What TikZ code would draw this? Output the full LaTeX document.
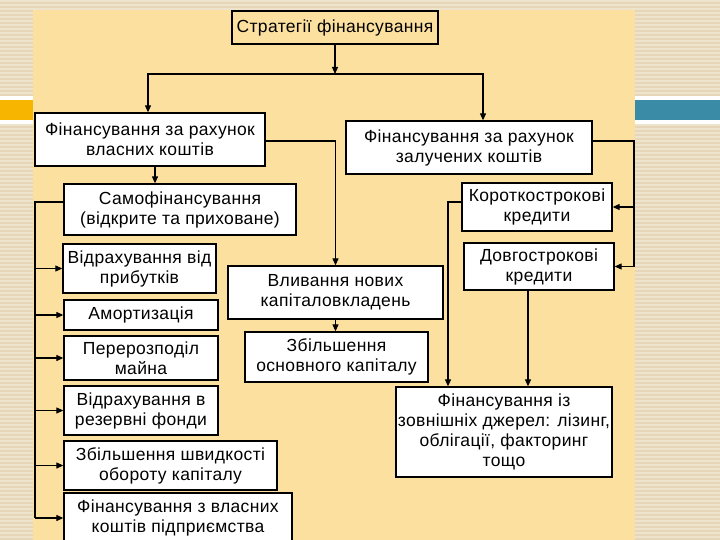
\documentclass[tikz,border=0pt]{standalone}
\usepackage{fontspec}
\setmainfont[LetterSpace=2]{Liberation Sans}
\usetikzlibrary{arrows.meta,positioning}
\definecolor{panelc}{HTML}{FCE09F}
\definecolor{stripc}{HTML}{E6D6B8}
\definecolor{stripl}{HTML}{EEE3CD}
\definecolor{barc}{HTML}{F8B500}
\definecolor{tealc}{HTML}{3A8CA6}
\tikzset{
  ar/.style={-{Triangle[length=7pt,width=6pt]},line width=1.1pt},
  ln/.style={line width=1.1pt},
  bx/.style={draw,line width=1.3pt,fill=white,align=center,inner sep=1pt,font=\fontsize{17.5}{20}\selectfont}
}
\begin{document}
\begin{tikzpicture}[x=1pt,y=-1pt]
\useasboundingbox (0,0) rectangle (720,540);
\clip (0,0) rectangle (720,540);
% background
\fill[stripc] (0,0) rectangle (720,540);
\foreach \i in {0,4,...,536} \fill[stripl] (0,\i) rectangle (720,\i+2);
\fill[panelc] (33,10) rectangle (635,540);
\fill[white] (0,96) rectangle (33,124); \fill[barc] (0,100) rectangle (33,120);
\fill[white] (635,96) rectangle (720,124); \fill[tealc] (635,100) rectangle (720,120);
% boxes
\node[bx,fill=panelc,minimum width=206pt,minimum height=33pt] (strat) at (335,27.5) {Стратегії фінансування};
\node[bx,minimum width=230pt,minimum height=53pt] (own) at (150,139.5) {Фінансування за рахунок\\власних коштів};
\node[bx,minimum width=246pt,minimum height=53pt] (borrowed) at (469,147.5) {Фінансування за рахунок\\залучених коштів};
\node[bx,minimum width=232pt,minimum height=51pt] (selffin) at (180,209.5) {Самофінансування\\(відкрите та приховане)};
\node[bx,minimum width=153pt,minimum height=49pt] (profit) at (139.5,268.5) {Відрахування від\\прибутків};
\node[bx,minimum width=154pt,minimum height=30pt] (amort) at (141,315) {Амортизація};
\node[bx,minimum width=154pt,minimum height=44pt] (redistr) at (141,358) {Перерозподіл\\майна};
\node[bx,minimum width=154pt,minimum height=49pt] (reserve) at (141,410.5) {Відрахування в\\резервні фонди};
\node[bx,minimum width=213pt,minimum height=49pt] (speed) at (170.5,465.5) {Збільшення швидкості\\обороту капіталу};
\node[bx,minimum width=228pt,minimum height=50pt] (ownent) at (178,518) {Фінансування з власних\\коштів підприємства};
\node[bx,minimum width=215pt,minimum height=53pt] (inflow) at (335.5,292.5) {Вливання нових\\капіталовкладень};
\node[bx,minimum width=183pt,minimum height=50pt] (fixedcap) at (336.5,357) {Збільшення\\основного капіталу};
\node[bx,minimum width=150pt,minimum height=48pt] (short) at (537,207) {Короткострокові\\кредити};
\node[bx,minimum width=150pt,minimum height=47pt] (long) at (539,266.5) {Довгострокові\\кредити};
\node[bx,minimum width=216pt,minimum height=90pt] (external) at (504,432) {Фінансування із\\зовнішніх джерел: лізинг,\\облігації, факторинг\\тощо};
% connectors
\coordinate (split) at (335,74);
\coordinate (lbus) at (35,202);
\coordinate (rbus) at (634,141);
\draw[ar] (strat) -- (split);
\draw[ar] (split) -| ([xshift=-2pt]own.north);
\draw[ar] (split) -| ([xshift=14pt]borrowed.north);
\draw[ar] ([yshift=-1.5pt]own.east) -| (inflow.north);
\draw[ar] ([xshift=5pt]own.south) -- ([xshift=5pt]own.south |- selffin.north);
\draw[ln] ([yshift=7.5pt]selffin.west) -- (lbus) -- (lbus |- ownent.west);
\foreach \b in {profit,amort,redistr,reserve,speed,ownent}
  \draw[ar] (lbus |- \b.west) -- (\b.west);
\draw[ar] (inflow.south) -- (inflow.south |- fixedcap.north);
\draw[ln] ([yshift=6.5pt]borrowed.east) -- (rbus) -- (rbus |- long.east);
\draw[ar] (rbus |- short.east) -- (short.east);
\draw[ar] (rbus |- long.east) -- (long.east);
\draw[ar] ([yshift=5pt]short.west) -| ([xshift=-56pt]external.north);
\draw[ar] ([xshift=-11pt]long.south) -- ([xshift=-11pt]long.south |- external.north);
\end{tikzpicture}
\end{document}
